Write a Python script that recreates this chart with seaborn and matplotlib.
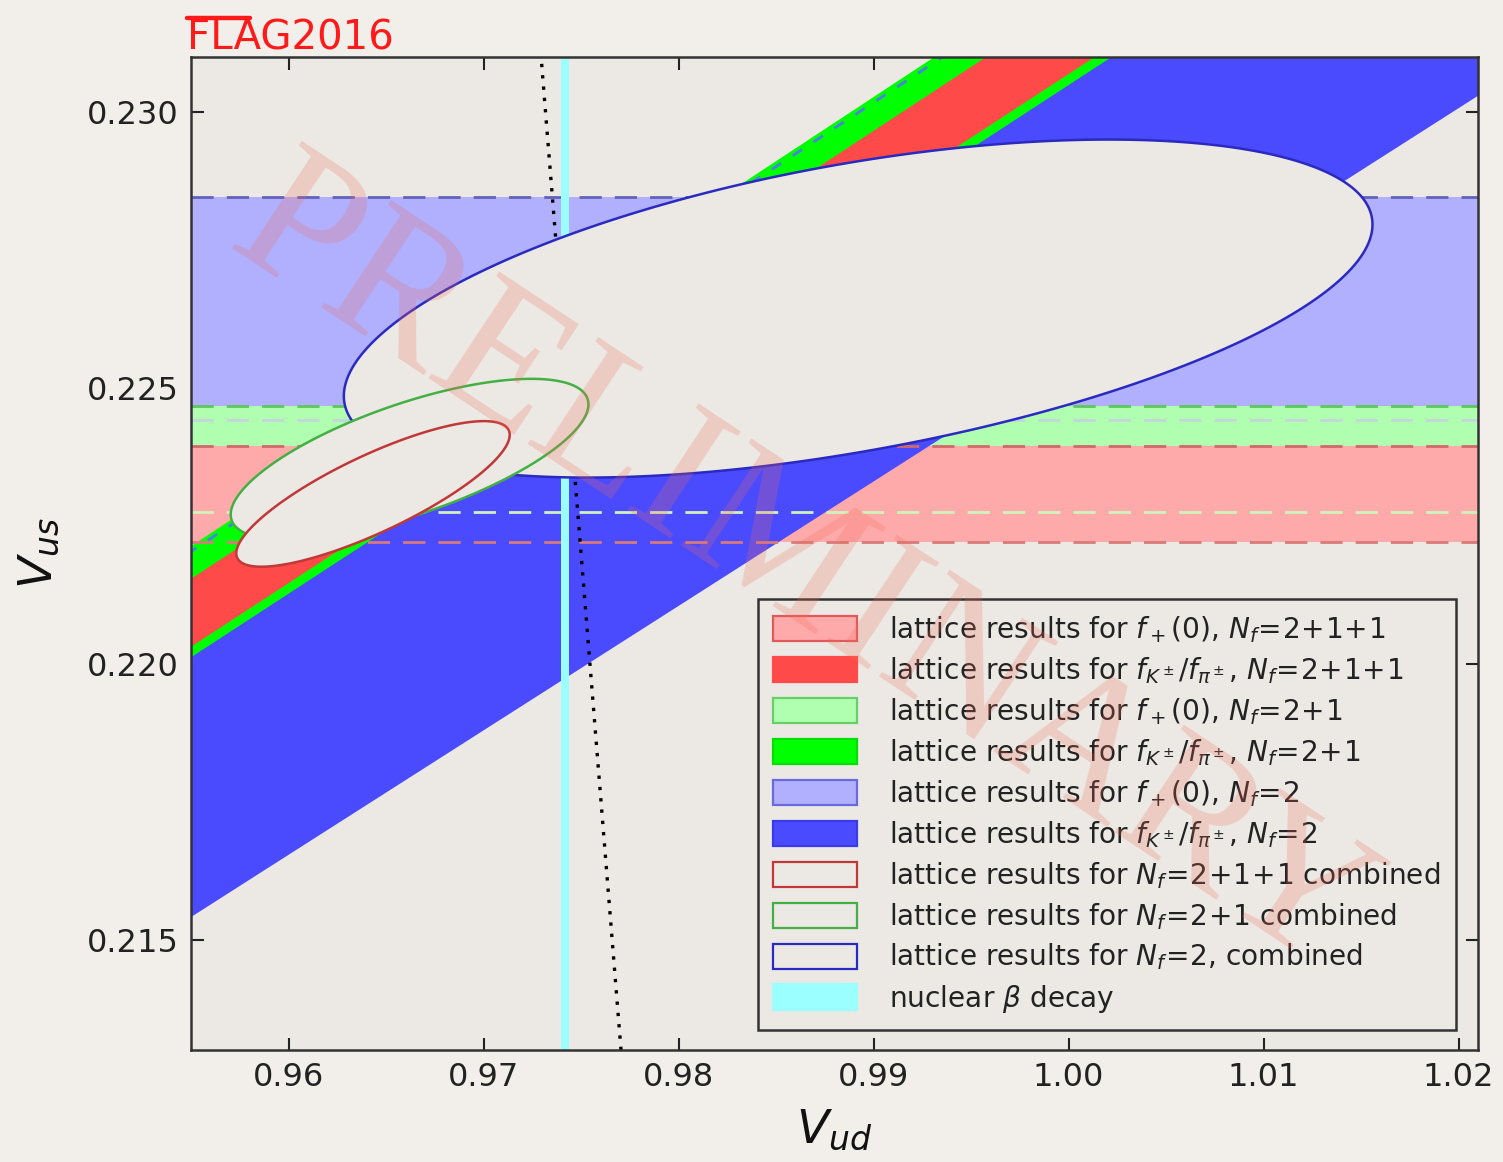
import numpy as np
import matplotlib
matplotlib.use("Agg")
import matplotlib.pyplot as plt
import seaborn as sns
from matplotlib.patches import Patch
from matplotlib.lines import Line2D
from matplotlib.ticker import FixedLocator, FormatStrFormatter

# ---------------------------------------------------------------------------
# Data
# ---------------------------------------------------------------------------
# |V_us| from f_+(0) for Nf = 2+1+1, 2+1, 2   (lower / upper edge)
nf_labels = ["2+1+1", "2+1", "2"]
fplus_vus_lo = [0.22221, 0.22275, 0.22442]
fplus_vus_hi = [0.22395, 0.22467, 0.22846]

# |V_us/V_ud| from f_K/f_pi for Nf = 2+1+1, 2+1, 2   (lower / upper edge)
fk_ratio_lo = [0.23069, 0.23049, 0.22556]
fk_ratio_hi = [0.23198, 0.23260, 0.23250]

# |V_ud| from superallowed nuclear beta decay
vud_beta = 0.97417
vud_beta_err = 0.00021

# chi^2 level of the combined contours
chi2_level = 2.3

# axis ranges and ticks
xlim = (0.955, 1.021)
ylim = (0.213, 0.231)
xticks = [0.96, 0.97, 0.98, 0.99, 1.00, 1.01, 1.02]
yticks = [0.215, 0.220, 0.225, 0.230]

# ---------------------------------------------------------------------------
# Style
# ---------------------------------------------------------------------------
sns.set_theme(style="ticks")
plt.rcParams["font.family"] = ["DejaVu Sans"]
plt.rcParams["mathtext.fontset"] = "dejavusans"

fig_bg = "#f2efea"
ax_bg = "#ece9e4"

light_cols = {"2+1+1": "#ffaaaa", "2+1": "#b0ffb0", "2": "#b0b0ff"}
dark_cols = {"2+1+1": "#ff4a4a", "2+1": "#00ff00", "2": "#4a4aff"}
ell_edge = {"2+1+1": "#c03838", "2+1": "#44b044", "2": "#2a2ac0"}
# dashed edges of the horizontal bands (upper, lower)
hedge_cols = {"2+1+1": ("#d46868", "#d87a7a"),
              "2+1": ("#5cc85c", "#d2f2bc"),
              "2": ("#6262b8", "#c4d6dc")}
cyan = "#9cffff"
dash = (0, (8, 4.7))

fig = plt.figure(figsize=(15.03, 11.62), dpi=100, facecolor=fig_bg)
ax = fig.add_axes([191 / 1503, 1 - 1050 / 1162, (1478 - 191) / 1503, (1050 - 57) / 1162])
ax.set_facecolor(ax_bg)
ax.set_xlim(*xlim)
ax.set_ylim(*ylim)

xs = np.linspace(xlim[0] - 0.01, xlim[1] + 0.01, 400)

# horizontal f_+(0) bands, widest first
order = [2, 1, 0]
for i in order:
    nf = nf_labels[i]
    ax.fill_between(xs, fplus_vus_lo[i], fplus_vus_hi[i], color=light_cols[nf], lw=0, zorder=1)

# diagonal f_K/f_pi bands
for i in order:
    nf = nf_labels[i]
    ax.fill_between(xs, fk_ratio_lo[i] * xs, fk_ratio_hi[i] * xs, color=dark_cols[nf], lw=0, zorder=2)

# upper edge of the Nf=2 ratio band
ax.plot(xs, fk_ratio_hi[2] * xs, ls=(0, (4, 5)), color="#4c7ee6", lw=2.0, zorder=3)

# dashed edges of the horizontal bands
for i in order:
    nf = nf_labels[i]
    up_c, lo_c = hedge_cols[nf]
    ax.axhline(fplus_vus_hi[i], ls=dash, color=up_c, lw=2.0, zorder=3)
    ax.axhline(fplus_vus_lo[i], ls=dash, color=lo_c, lw=2.0, zorder=3)

# nuclear beta decay
ax.axvspan(vud_beta - vud_beta_err, vud_beta + vud_beta_err, color=cyan, lw=0, zorder=4)

# first-row unitarity |V_ud|^2 + |V_us|^2 = 1
vus_unit = np.array([ylim[0], ylim[1]])
vud_unit = np.sqrt(1.0 - vus_unit ** 2)
sns.lineplot(x=vud_unit, y=vus_unit, sort=False, estimator=None, ax=ax,
             color="black", lw=2.4, ls=(0, (1, 2.4)), zorder=4)

# combined contours: chi^2 from the f_+(0) and f_K/f_pi constraints
k = np.sqrt(chi2_level)
phi = np.linspace(0, 2 * np.pi, 720)
for i in order:
    nf = nf_labels[i]
    c1 = 0.5 * (fplus_vus_lo[i] + fplus_vus_hi[i])
    s1 = 0.5 * (fplus_vus_hi[i] - fplus_vus_lo[i])
    r = 0.5 * (fk_ratio_lo[i] + fk_ratio_hi[i])
    dr = 0.5 * (fk_ratio_hi[i] - fk_ratio_lo[i])
    vus_e = c1 + s1 * k * np.cos(phi)
    vud_e = vus_e / (r + dr * k * np.sin(phi))
    ax.fill(vud_e, vus_e, facecolor=ax_bg, edgecolor=ell_edge[nf], lw=1.8, zorder=5 + (2 - i))

# axes cosmetics
ax.xaxis.set_major_locator(FixedLocator(xticks))
ax.yaxis.set_major_locator(FixedLocator(yticks))
ax.xaxis.set_major_formatter(FormatStrFormatter("%.2f"))
ax.yaxis.set_major_formatter(FormatStrFormatter("%.3f"))
ax.tick_params(which="both", direction="in", top=True, right=True, length=9, width=1.5,
               color="#222222", labelsize=23, labelcolor="#222222", pad=9)
for sp in ax.spines.values():
    sp.set_linewidth(1.8)
    sp.set_color("#333333")
    sp.set_zorder(20)

ax.set_xlabel(r"$V_{ud}$", fontsize=34, labelpad=10, color="#111111")
ax.set_ylabel(r"$V_{us}$", fontsize=34, labelpad=18, color="#111111")

# legend
handles = [
    Patch(facecolor=light_cols["2+1+1"], edgecolor="#e05a5a", lw=1.6),
    Patch(facecolor=dark_cols["2+1+1"], edgecolor=dark_cols["2+1+1"], lw=1.6),
    Patch(facecolor=light_cols["2+1"], edgecolor="#66d066", lw=1.6),
    Patch(facecolor=dark_cols["2+1"], edgecolor="#00e000", lw=1.6),
    Patch(facecolor=light_cols["2"], edgecolor="#6a6ae0", lw=1.6),
    Patch(facecolor=dark_cols["2"], edgecolor="#3a3ae6", lw=1.6),
    Patch(facecolor=ax_bg, edgecolor=ell_edge["2+1+1"], lw=1.6),
    Patch(facecolor=ax_bg, edgecolor=ell_edge["2+1"], lw=1.6),
    Patch(facecolor=ax_bg, edgecolor=ell_edge["2"], lw=1.6),
    Patch(facecolor=cyan, edgecolor=cyan, lw=1.6),
]
labels = [
    r"lattice results for $f_+(0)$, $N_f\!=\!2\!+\!1\!+\!1$",
    r"lattice results for $f_{K^\pm}/f_{\pi^\pm}$, $N_f\!=\!2\!+\!1\!+\!1$",
    r"lattice results for $f_+(0)$, $N_f\!=\!2\!+\!1$",
    r"lattice results for $f_{K^\pm}/f_{\pi^\pm}$, $N_f\!=\!2\!+\!1$",
    r"lattice results for $f_+(0)$, $N_f\!=\!2$",
    r"lattice results for $f_{K^\pm}/f_{\pi^\pm}$, $N_f\!=\!2$",
    r"lattice results for $N_f\!=\!2\!+\!1\!+\!1$ combined",
    r"lattice results for $N_f\!=\!2\!+\!1$ combined",
    r"lattice results for $N_f\!=\!2$, combined",
    r"nuclear $\beta$ decay",
]
leg = ax.legend(handles, labels, loc="lower right",
                bbox_to_anchor=((1456 - 191) / 1287, (1050 - 1030) / 993),
                borderaxespad=0, fontsize=20.2, frameon=True, fancybox=False,
                handlelength=3.0, handleheight=1.0, handletextpad=1.15,
                labelspacing=0.36, borderpad=0.55)
leg.get_frame().set_facecolor(ax_bg)
leg.get_frame().set_edgecolor("#333333")
leg.get_frame().set_linewidth(1.8)
leg.get_frame().set_alpha(1)
leg.set_zorder(15)
for t in leg.get_texts():
    t.set_color("#222222")

# FLAG logo
fig.text(187 / 1503, 1 - 49 / 1162, "FLAG2016", color="#ff1a1a", fontsize=29,
         ha="left", va="baseline")
fig.add_artist(Line2D([187 / 1503, 250 / 1503], [1 - 18 / 1162, 1 - 18 / 1162],
                      color="#ff1a1a", lw=3.2, transform=fig.transFigure))

# watermark
fig.text(800 / 1503, 1 - 572 / 1162, "PRELIMINARY", fontsize=140, family="Liberation Serif",
         color="#f06a58", alpha=0.24, rotation=-33.5, rotation_mode="anchor",
         ha="center", va="center", zorder=30)

fig.savefig("out.png", dpi=100, facecolor=fig_bg)
